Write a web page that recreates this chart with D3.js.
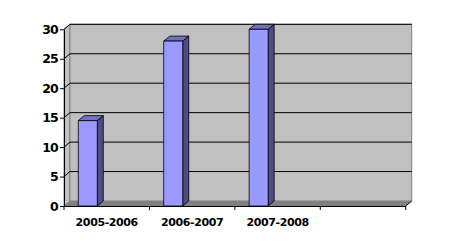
<html>
  <head>
    <meta charset="utf-8">
    <script src="https://d3js.org/d3.v7.min.js"></script>
    <style>
      body { margin: 0; background: #fff; }
      text { font-family: "DejaVu Sans", Verdana, sans-serif; font-weight: bold; fill: #000; }
    </style>
  </head>
  <body>
    <div id="chart"></div>
  </body>
  <script>
    // data
    const categories = ["2005-2006", "2006-2007", "2007-2008", ""];
    const values = [14.5, 28, 30, null];
    const yTicks = [0, 5, 10, 15, 20, 25, 30];

    const W = 453, H = 250;
    // 3d depth offset of the back wall
    const dx = 6, dy = -5;

    const svg = d3.select("#chart").append("svg")
      .attr("width", W)
      .attr("height", H);

    const x = d3.scaleBand()
      .domain(categories)
      .range([64, 405.7])
      .padding(0);

    const y = d3.scaleLinear()
      .domain([0, 30])
      .range([206, 29.3]);

    const x0 = x.range()[0], x1 = x.range()[1];
    const yb = y(0), yt = y(30);

    // side wall
    svg.append("polygon")
      .attr("points", [[x0, yb], [x0, yt], [x0 + dx, yt + dy], [x0 + dx, yb + dy]].join(" "))
      .attr("fill", "#c0c0c0")
      .attr("stroke", "#808080");

    // back wall
    svg.append("rect")
      .attr("x", x0 + dx).attr("y", yt + dy)
      .attr("width", x1 - x0).attr("height", yb - yt)
      .attr("fill", "#c0c0c0")
      .attr("stroke", "#808080");

    // floor
    svg.append("polygon")
      .attr("points", [[x0, yb], [x0 + dx, yb + dy], [x1 + dx, yb + dy], [x1, yb]].join(" "))
      .attr("fill", "#808080");

    // gridlines on side + back wall
    const grid = svg.append("g").attr("stroke", "#000").attr("stroke-width", 1).attr("fill", "none");
    grid.selectAll("path")
      .data(yTicks.filter(d => d > 0))
      .join("path")
      .attr("d", d => `M${x0},${y(d)}L${x0 + dx},${y(d) + dy}H${x1 + dx}`);

    // bars
    const bw = 19, off = 14.3;
    const bars = svg.append("g")
      .selectAll("g")
      .data(categories.map((c, i) => ({c, v: values[i]})).filter(d => d.v != null))
      .join("g")
      .attr("stroke", "#000")
      .attr("stroke-width", 0.8)
      .attr("stroke-linejoin", "round");

    bars.append("polygon")
      .attr("fill", "#4d4d86")
      .attr("points", d => {
        const l = x(d.c) + off + bw, t = y(d.v);
        return [[l, yb], [l, t], [l + dx, t + dy], [l + dx, yb + dy]].join(" ");
      });
    bars.append("polygon")
      .attr("fill", "#7070c4")
      .attr("points", d => {
        const l = x(d.c) + off, t = y(d.v);
        return [[l, t], [l + dx, t + dy], [l + bw + dx, t + dy], [l + bw, t]].join(" ");
      });
    bars.append("rect")
      .attr("fill", "#9999ff")
      .attr("x", d => x(d.c) + off)
      .attr("y", d => y(d.v))
      .attr("width", bw)
      .attr("height", d => yb - y(d.v));

    // y axis
    const yAxis = svg.append("g")
      .attr("transform", `translate(${x0},0)`)
      .call(d3.axisLeft(y).tickValues(yTicks).tickSize(4).tickPadding(2).tickSizeOuter(0));
    yAxis.select(".domain").attr("stroke", "#000");
    yAxis.selectAll(".tick line").attr("stroke", "#000");
    yAxis.selectAll("text")
      .style("font-size", "12.5px")
      .attr("letter-spacing", "-0.8")
      .attr("font-family", null);

    // x axis
    const xAxis = svg.append("g")
      .attr("transform", `translate(0,${yb})`)
      .call(d3.axisBottom(x).tickSize(0).tickPadding(0));
    xAxis.select(".domain").attr("stroke", "#000");
    xAxis.selectAll("text")
      .attr("y", 19.5)
      .attr("dy", null)
      .style("font-size", "11px")
      .attr("letter-spacing", "-0.4")
      .attr("font-family", null);

    // category boundary ticks
    svg.append("g")
      .attr("stroke", "#000")
      .selectAll("line")
      .data(categories.map(c => x(c)).concat([x1]))
      .join("line")
      .attr("x1", d => d).attr("x2", d => d)
      .attr("y1", yb).attr("y2", yb + 4);

    // right floor edge
    svg.append("line")
      .attr("x1", x1).attr("y1", yb)
      .attr("x2", x1 + dx).attr("y2", yb + dy)
      .attr("stroke", "#000");
  </script>
</html>
